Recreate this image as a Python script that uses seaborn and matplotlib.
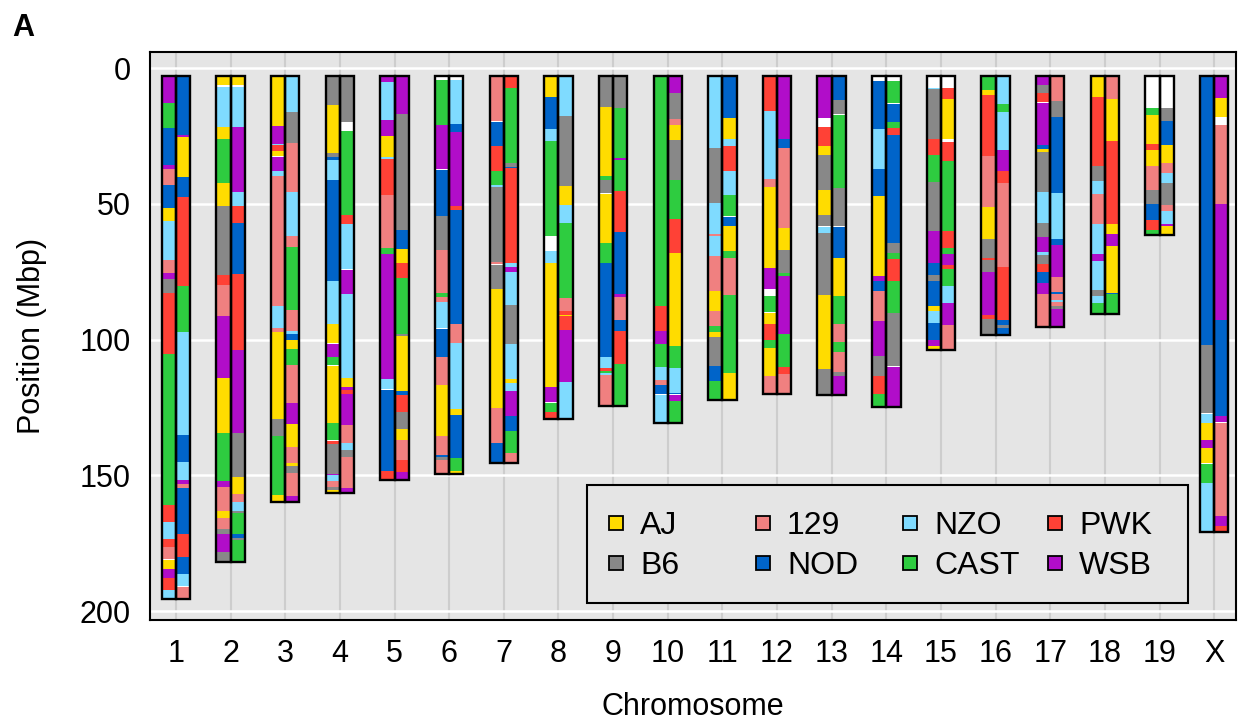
import matplotlib
matplotlib.use("Agg")
import matplotlib.pyplot as plt
import seaborn as sns
from matplotlib.lines import Line2D
from matplotlib.patches import Rectangle

# ---------------- data ----------------
strains = ["AJ", "B6", "129", "NOD", "NZO", "CAST", "PWK", "WSB"]
codes = ["A", "B", "C", "D", "N", "K", "P", "W"]
strain_colors = ["#FFDC00", "#888888", "#F08080", "#0064C9",
                 "#7FDBFF", "#2ECC40", "#FF4136", "#B10DC9"]
chromosomes = ["1", "2", "3", "4", "5", "6", "7", "8", "9", "10",
               "11", "12", "13", "14", "15", "16", "17", "18", "19", "X"]
chrom_start = 3.0
y_ticks = [0, 50, 100, 150, 200]

# each haplotype: list of (strain code, segment end in Mbp); "-" = no call
chr1_left = [("W",12.9),("K",22.2),("D",35.6),("W",37.3),("C",43.2),("D",51.6),("A",56.4),("N",70.7),("C",75.5),("W",77.7),("B",82.9),("P",105.2),("K",161.1),("P",167.2),("N",173.5),("P",176.4),("C",180.9),("-",181.2),("A",184.5),("W",187.8),("P",192.3),("N",195.5)]
chr1_right = [("D",24.5),("W",25.5),("A",40.2),("D",47.5),("P",80.4),("K",97.2),("N",135.1),("D",145.1),("N",151.7),("W",153.2),("C",154.8),("D",171.6),("P",180.1),("D",186.3),("N",190.6),("-",191.0),("C",195.5)]
chr2_left = [("A",6.3),("-",7.0),("N",21.9),("A",26.2),("K",42.5),("A",51.0),("B",76.3),("P",80.0),("C",91.4),("W",114.2),("A",134.5),("K",152.1),("W",154.2),("C",163.1),("A",165.7),("C",169.7),("B",171.6),("W",178.2),("B",182.1)]
chr2_right = [("A",6.3),("-",7.0),("N",21.8),("W",45.8),("N",51.0),("P",57.2),("D",75.9),("P",103.9),("W",134.5),("B",150.6),("A",156.9),("C",159.8),("N",163.1),("B",163.8),("K",171.6),("D",173.1),("B",173.7),("K",182.1)]
chr3_left = [("A",21.3),("W",27.9),("N",28.5),("P",30.5),("A",32.4),("-",32.8),("W",38.0),("N",39.7),("C",87.7),("N",95.8),("C",97.2),("A",129.3),("B",135.4),("K",157.2),("A",160.0)]
chr3_right = [("N",16.2),("B",27.8),("C",45.8),("N",62.0),("C",66.0),("K",89.2),("C",96.8),("N",98.0),("D",100.3),("A",103.5),("K",109.3),("C",123.4),("W",131.2),("A",139.5),("C",145.5),("A",146.5),("B",149.2),("C",157.8),("W",160.0)]
chr4_left = [("B",13.7),("A",31.4),("B",32.8),("D",33.8),("N",41.3),("D",78.5),("N",94.3),("A",101.1),("-",101.5),("W",106.5),("K",109.3),("-",109.6),("A",130.8),("K",136.9),("-",137.2),("P",138.3),("B",149.7),("W",150.0),("N",152.1),("C",154.2),("B",155.6),("A",156.5)]
chr4_right = [("B",20.0),("-",23.3),("K",54.2),("P",57.5),("N",74.0),("-",74.3),("W",83.3),("N",114.2),("A",117.5),("W",118.6),("P",119.9),("W",131.4),("C",138.1),("N",140.7),("B",143.2),("C",154.6),("W",156.5)]
chr5_left = [("W",5.2),("N",19.3),("W",25.1),("A",32.6),("N",33.6),("P",46.9),("C",66.2),("K",68.4),("W",114.6),("N",118.1),("-",118.5),("D",148.3),("P",151.8)]
chr5_right = [("W",17.0),("B",59.7),("D",66.7),("A",71.9),("P",77.2),("K",98.0),("B",98.7),("A",118.9),("D",120.4),("P",126.7),("B",133.0),("A",137.0),("C",144.4),("P",148.8),("W",151.8)]
chr6_left = [("-",4.4),("K",21.0),("W",37.2),("-",37.5),("D",54.6),("B",67.0),("C",82.9),("K",84.4),("C",86.2),("N",95.7),("-",96.0),("D",106.5),("C",116.7),("A",135.4),("C",142.7),("D",143.2),("B",144.2),("C",149.7)]
chr6_right = [("-",4.4),("N",20.7),("D",23.7),("W",51.0),("P",52.3),("D",94.3),("C",101.3),("N",125.5),("A",127.8),("D",143.6),("K",148.4),("A",149.7)]
chr7_left = [("C",19.5),("-",19.9),("D",28.8),("P",38.0),("K",43.2),("N",43.7),("B",71.6),("C",72.0),("-",72.4),("B",81.5),("A",125.2),("C",138.1),("D",145.4)]
chr7_right = [("P",7.2),("K",35.1),("B",36.5),("D",36.9),("P",71.9),("N",73.4),("W",75.2),("N",87.3),("B",101.6),("N",114.6),("A",116.0),("N",119.0),("W",128.0),("D",133.7),("K",141.7),("C",145.4)]
chr8_left = [("A",10.8),("D",22.6),("N",27.0),("K",62.0),("-",67.4),("N",71.9),("A",117.5),("W",123.1),("-",123.5),("K",126.7),("P",129.4)]
chr8_right = [("N",17.7),("B",43.5),("A",50.6),("N",57.2),("K",84.8),("C",89.5),("P",90.9),("A",91.4),("P",96.6),("W",115.7),("N",129.4)]
chr9_left = [("B",14.4),("A",39.8),("K",41.3),("B",45.9),("-",46.3),("A",64.5),("K",71.9),("D",106.5),("N",110.5),("P",111.5),("K",112.5),("N",113.0),("C",124.6)]
chr9_right = [("B",14.8),("K",33.3),("W",33.7),("K",45.4),("P",60.5),("D",83.3),("W",84.2),("C",92.9),("D",96.7),("P",109.0),("K",124.6)]
chr10_left = [("K",87.7),("P",96.8),("W",101.6),("K",110.1),("N",115.0),("C",116.7),("D",120.0),("-",120.6),("N",130.7)]
chr10_right = [("W",9.3),("B",18.9),("C",21.0),("A",26.6),("B",41.3),("K",55.5),("P",68.2),("A",102.4),("K",110.5),("N",119.6),("D",120.0),("-",120.6),("W",122.7),("K",130.7)]
chr11_left = [("N",29.5),("B",49.8),("N",61.0),("C",62.0),("N",69.3),("C",82.1),("A",89.5),("C",95.1),("K",97.2),("A",99.1),("B",109.6),("D",115.3),("K",122.1)]
chr11_right = [("D",18.5),("A",26.0),("N",28.8),("P",38.0),("N",46.9),("K",54.5),("-",54.8),("D",58.3),("A",67.4),("K",70.1),("C",83.7),("K",112.3),("A",122.1)]
chr12_left = [("P",16.0),("N",40.9),("C",44.0),("A",73.8),("W",81.5),("-",84.0),("K",89.9),("-",90.3),("A",94.3),("P",100.3),("K",103.2),("A",113.4),("C",120.1)]
chr12_right = [("W",26.0),("D",29.5),("C",58.9),("A",67.2),("B",75.5),("K",76.7),("W",98.0),("K",110.1),("P",112.7),("C",120.1)]
chr13_left = [("W",18.5),("-",21.8),("P",28.8),("A",31.9),("B",45.0),("A",54.2),("B",58.1),("-",58.5),("N",60.8),("B",83.7),("A",110.9),("B",120.4)]
chr13_right = [("D",11.9),("B",16.9),("-",17.3),("K",44.2),("B",58.1),("-",58.5),("D",70.1),("A",84.0),("K",94.3),("C",100.9),("K",104.6),("C",112.0),("B",113.3),("W",120.4)]
chr14_left = [("-",4.8),("D",22.6),("N",37.3),("D",47.1),("A",76.7),("W",78.5),("D",82.1),("C",93.2),("W",106.1),("B",113.3),("P",119.9),("K",124.9)]
chr14_right = [("-",4.8),("K",12.8),("-",13.2),("D",20.0),("K",22.2),("P",24.7),("D",64.3),("B",68.2),("K",70.3),("P",78.5),("K",90.4),("B",109.8),("-",110.3),("W",124.9)]
chr15_left = [("-",7.2),("N",7.7),("B",26.0),("P",32.1),("K",42.1),("B",60.2),("W",71.9),("D",76.3),("B",78.5),("D",87.7),("A",89.6),("N",93.9),("D",100.0),("W",102.4),("A",104.0)]
chr15_right = [("-",7.5),("P",11.5),("A",26.2),("-",27.2),("P",34.3),("K",60.2),("P",66.2),("K",68.6),("W",72.6),("P",73.9),("K",80.4),("N",86.6),("W",94.7),("C",104.0)]
chr16_left = [("K",8.2),("A",10.0),("P",32.4),("C",51.2),("A",63.0),("B",70.0),("P",70.7),("B",75.2),("W",91.0),("P",92.5),("B",98.2)]
chr16_right = [("N",13.3),("K",16.3),("N",30.3),("W",38.0),("P",42.5),("C",73.4),("P",92.9),("D",94.7),("B",95.9),("D",98.2)]
chr17_left = [("W",6.3),("B",9.3),("P",12.4),("-",12.8),("W",28.5),("D",29.9),("A",31.1),("B",45.8),("N",57.2),("B",62.4),("W",67.8),("N",68.9),("B",72.2),("P",75.2),("D",79.2),("W",83.3),("C",95.3)]
chr17_right = [("C",12.3),("B",18.1),("D",46.1),("N",63.0),("D",65.1),("W",76.9),("C",82.5),("D",83.3),("C",85.3),("N",86.2),("C",87.7),("B",88.8),("W",95.3)]
chr18_left = [("A",10.8),("P",36.1),("B",41.7),("N",46.5),("C",57.5),("N",68.6),("W",71.1),("N",81.7),("B",84.0),("N",86.6),("K",90.7)]
chr18_right = [("C",11.5),("A",27.0),("P",57.5),("A",61.2),("W",65.7),("A",82.8),("D",83.3),("K",90.7)]
chr19_left = [("-",14.8),("K",17.4),("A",28.0),("P",30.3),("A",36.1),("C",45.0),("B",50.1),("D",56.0),("P",59.7),("K",61.4)]
chr19_right = [("-",14.8),("B",19.6),("D",28.4),("A",35.1),("C",38.8),("N",42.5),("B",50.6),("C",52.6),("N",57.5),("W",58.3),("A",61.4)]
chrX_left = [("D",102.0),("B",127.1),("-",127.5),("N",130.8),("A",136.9),("W",139.8),("A",145.3),("-",145.7),("K",152.9),("N",171.0)]
chrX_right = [("W",11.2),("A",18.1),("-",21.0),("C",50.2),("W",92.8),("D",128.1),("W",130.4),("-",130.8),("C",165.0),("W",168.7),("P",171.0)]

haplotypes = [
    (chr1_left, chr1_right), (chr2_left, chr2_right), (chr3_left, chr3_right),
    (chr4_left, chr4_right), (chr5_left, chr5_right), (chr6_left, chr6_right),
    (chr7_left, chr7_right), (chr8_left, chr8_right), (chr9_left, chr9_right),
    (chr10_left, chr10_right), (chr11_left, chr11_right), (chr12_left, chr12_right),
    (chr13_left, chr13_right), (chr14_left, chr14_right), (chr15_left, chr15_right),
    (chr16_left, chr16_right), (chr17_left, chr17_right), (chr18_left, chr18_right),
    (chr19_left, chr19_right), (chrX_left, chrX_right),
]

# ---------------- style ----------------
sns.set_theme(style="darkgrid", rc={"axes.facecolor": "#E5E5E5",
                                    "grid.color": "white",
                                    "text.color": "black",
                                    "axes.labelcolor": "black",
                                    "xtick.color": "black",
                                    "ytick.color": "black"})
plt.rcParams["font.family"] = ["Liberation Sans", "DejaVu Sans"]

color_of = dict(zip(codes, strain_colors))
color_of["-"] = "white"

W, H = 1238, 725
fig = plt.figure(figsize=(W / 100, H / 100), dpi=100)
ax = fig.add_axes([150 / W, 1 - 620 / H, 1086 / W, 568 / H])

col_w = 0.26
for i, (left, right) in enumerate(haplotypes):
    xc = i + 1
    for side, segs in ((-1, left), (1, right)):
        x = xc + side * col_w / 2
        start = chrom_start
        for code, end in segs:
            ax.bar(x, end - start, bottom=start, width=col_w,
                   color=color_of[code], linewidth=0, zorder=3)
            start = end
        ax.bar(x, start - chrom_start, bottom=chrom_start, width=col_w,
               fill=False, edgecolor="black", linewidth=1.7, zorder=4)

ax.set_xlim(0.525, 20.4)
ax.set_ylim(203.3, -5.9)
ax.set_xticks(range(1, len(chromosomes) + 1))
ax.set_xticklabels(chromosomes)
ax.set_yticks(y_ticks)
ax.grid(axis="y", color="white", linewidth=1.8, zorder=0)
ax.grid(axis="x", color="#CDCDCD", linewidth=1.5, zorder=0)
ax.set_axisbelow(True)
for s in ax.spines.values():
    s.set_visible(True)
    s.set_color("black")
    s.set_linewidth(1.5)
ax.tick_params(axis="both", labelsize=22, labelcolor="black", length=5,
               width=1, color="#333333", pad=9)
ax.set_xlabel("Chromosome", fontsize=22, labelpad=16, color="black")
ax.set_ylabel("Position (Mbp)", fontsize=22, labelpad=23, color="black")

# ---------------- legend ----------------
px2ax_x = lambda p: (p - 150) / 1086
px2ax_y = lambda p: (620 - p) / 568
ax.add_patch(Rectangle((px2ax_x(587), px2ax_y(603)), 601 / 1086, 118 / 568,
                       transform=ax.transAxes, facecolor="#E5E5E5",
                       edgecolor="black", linewidth=1.5, zorder=9))
leg_fs = 23
handle_len = 0.8
half_handle_px = 0.5 * handle_len * leg_fs * 100 / 72
marker_px = [616, 763, 910, 1055]
for j in range(4):
    hs = [Line2D([0], [0], marker="s", linestyle="none", markersize=9.5,
                 markerfacecolor=strain_colors[2 * j + k],
                 markeredgecolor="black", markeredgewidth=1.3)
          for k in range(2)]
    leg = ax.legend(hs, strains[2 * j:2 * j + 2], ncol=1, loc="center left",
                    bbox_to_anchor=(px2ax_x(marker_px[j] - half_handle_px),
                                    px2ax_y(546)),
                    fontsize=leg_fs, frameon=False, borderpad=0,
                    labelspacing=0.32, handletextpad=0.35,
                    handlelength=handle_len, borderaxespad=0)
    for t in leg.get_texts():
        t.set_color("black")
    leg.set_zorder(10)
    if j < 3:
        ax.add_artist(leg)

fig.text(12 / W, 1 - 28 / H, "A", fontsize=22, fontweight="bold",
         va="center", ha="left", color="black")

fig.savefig("out.png", dpi=100)
